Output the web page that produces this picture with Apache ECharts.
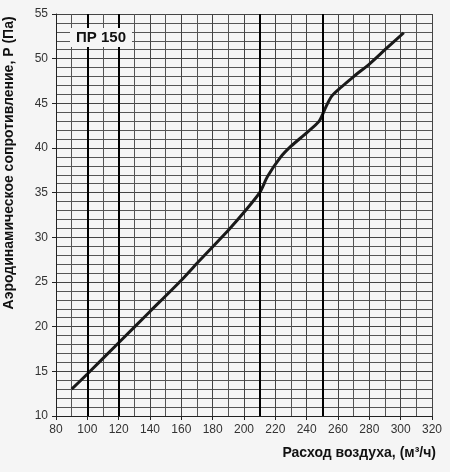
<!DOCTYPE html>
<html>
<head>
<meta charset="utf-8">
<script src="https://cdn.jsdelivr.net/npm/echarts@6/dist/echarts.min.js"></script>
<style>
  html, body { margin: 0; padding: 0; background: #f5f5f5; }
  #chart { width: 450px; height: 472px; }
</style>
</head>
<body>
<div id="chart"></div>
<script>
// расход воздуха, м3/ч
var flow = [90, 100, 120, 140, 160, 170, 190, 200, 210, 215, 223, 230, 240, 248, 252, 256, 262, 270, 280, 290, 302];
// сопротивление, Па
var pressure = [13, 14.7, 18.2, 21.7, 25.2, 27.1, 30.8, 32.8, 35, 36.8, 38.9, 40.2, 41.7, 43, 44.5, 45.8, 46.8, 48.0, 49.4, 51.0, 52.9];
// жирные вертикальные линии
var boldLines = [100, 120, 210, 250];
var modelName = 'ПР 150';

var points = flow.map(function (x, i) { return [x, pressure[i]]; });

var myChart = echarts.init(document.getElementById('chart'));
myChart.setOption({
    backgroundColor: '#f5f5f5',
    animation: false,
    textStyle: { fontFamily: 'Liberation Sans' },
    grid: { left: 56, right: 18, top: 14, bottom: 56, outerBoundsMode: 'none', containLabel: false },
    xAxis: {
        type: 'value',
        min: 80,
        max: 320,
        interval: 20,
        name: 'Расход воздуха, (м³/ч)',
        nameLocation: 'end',
        nameGap: 4,
        nameTextStyle: {
            color: '#111', fontSize: 14, fontWeight: 'bold',
            align: 'right', verticalAlign: 'top', padding: [30, 0, 0, 0]
        },
        axisLine: { lineStyle: { color: '#222', width: 1 } },
        axisTick: { show: true, length: 4, lineStyle: { color: '#222' } },
        axisLabel: { color: '#333', fontSize: 12, margin: 8 },
        splitLine: { show: true, lineStyle: { color: '#444', width: 1 } },
        minorTick: { show: false, splitNumber: 2 },
        minorSplitLine: { show: true, lineStyle: { color: '#555', width: 1 } }
    },
    yAxis: {
        type: 'value',
        min: 10,
        max: 55,
        interval: 5,
        name: 'Аэродинамическое сопротивление, Р (Па)',
        nameLocation: 'middle',
        nameGap: 40,
        nameTextStyle: {
            color: '#111', fontSize: 14, fontWeight: 'bold',
            padding: [0, 0, 0, 104]
        },
        axisLine: { show: true, lineStyle: { color: '#222', width: 1 } },
        axisTick: { show: true, length: 4, lineStyle: { color: '#222' } },
        axisLabel: { color: '#333', fontSize: 12, margin: 8 },
        splitLine: { show: true, lineStyle: { color: '#444', width: 1 } },
        minorTick: { show: false, splitNumber: 5 },
        minorSplitLine: { show: true, lineStyle: { color: '#555', width: 1 } }
    },
    graphic: [{
        type: 'text',
        left: 70,
        top: 28,
        z: 100,
        style: {
            text: modelName,
            fill: '#111',
            font: 'bold 15px "Liberation Sans"',
            backgroundColor: '#f5f5f5',
            padding: [2, 6, 2, 6]
        }
    }],
    series: [{
        type: 'line',
        data: points,
        smooth: 0.25,
        symbol: 'none',
        lineStyle: { color: '#1a1a1a', width: 3 },
        markLine: {
            silent: true,
            symbol: 'none',
            label: { show: false },
            lineStyle: { color: '#000', width: 2, type: 'solid' },
            data: boldLines.map(function (v) { return { xAxis: v }; })
        }
    }]
});
</script>
</body>
</html>
